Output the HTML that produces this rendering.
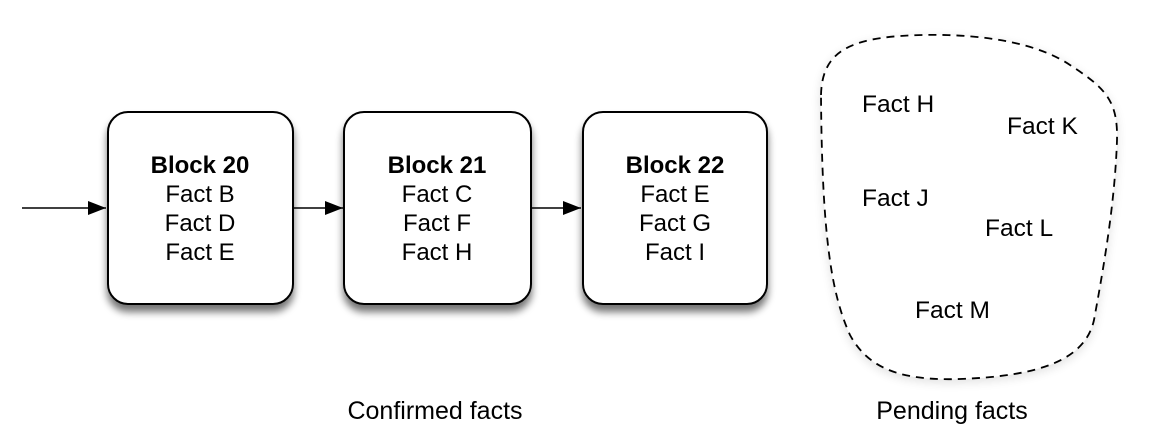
<!DOCTYPE html>
<html><head><meta charset="utf-8"><style>
html,body{margin:0;padding:0;background:#fff;}
svg{display:block;}
text{font-family:"Liberation Sans",Arial,sans-serif;fill:#000;}
</style></head><body>
<svg width="1160" height="445" viewBox="0 0 1160 445" xmlns="http://www.w3.org/2000/svg">
<defs>
<filter id="sh" x="-20%" y="-20%" width="140%" height="150%">
<feGaussianBlur in="SourceAlpha" stdDeviation="4"/>
<feOffset dx="0" dy="7" result="b"/>
<feComponentTransfer><feFuncA type="linear" slope="0.55"/></feComponentTransfer>
<feMerge><feMergeNode/><feMergeNode in="SourceGraphic"/></feMerge>
</filter>
<filter id="sh2" x="-20%" y="-20%" width="140%" height="140%">
<feGaussianBlur in="SourceAlpha" stdDeviation="5"/>
<feOffset dx="0" dy="3"/>
<feComponentTransfer><feFuncA type="linear" slope="0.12"/></feComponentTransfer>
<feMerge><feMergeNode/><feMergeNode in="SourceGraphic"/></feMerge>
</filter>
<marker id="ar" markerWidth="18" markerHeight="14" refX="18" refY="7" orient="auto" markerUnits="userSpaceOnUse">
<path d="M0,0 L18,7 L0,14 Z" fill="#000"/>
</marker>
</defs>

<line x1="22" y1="208" x2="106" y2="208" stroke="#000" stroke-width="1.5" marker-end="url(#ar)"/>
<line x1="293" y1="208" x2="343" y2="208" stroke="#000" stroke-width="1.5" marker-end="url(#ar)"/>
<line x1="531" y1="208" x2="581" y2="208" stroke="#000" stroke-width="1.5" marker-end="url(#ar)"/>

<g filter="url(#sh)">
<rect x="108" y="112" width="185" height="192" rx="20" fill="#fff" stroke="#000" stroke-width="2"/>
<rect x="344" y="112" width="187" height="192" rx="20" fill="#fff" stroke="#000" stroke-width="2"/>
<rect x="583" y="112" width="184" height="192" rx="20" fill="#fff" stroke="#000" stroke-width="2"/>
</g>

<g text-anchor="middle" font-size="24">
<text x="200" y="173" font-weight="bold">Block 20</text>
<text x="200" y="202">Fact B</text>
<text x="200" y="231">Fact D</text>
<text x="200" y="260">Fact E</text>
<text x="437" y="173" font-weight="bold">Block 21</text>
<text x="437" y="202">Fact C</text>
<text x="437" y="231">Fact F</text>
<text x="437" y="260">Fact H</text>
<text x="675" y="173" font-weight="bold">Block 22</text>
<text x="675" y="202">Fact E</text>
<text x="675" y="231">Fact G</text>
<text x="675" y="260">Fact I</text>
</g>

<path filter="url(#sh2)" d="M821,95 C822,55 845,40 900,36 C960,32 1030,38 1070,65 C1105,88 1118,100 1117,140 C1115,200 1105,260 1094,320 C1085,360 1040,376 960,379 C900,381 868,368 850,335 C832,295 822,240 821,95 Z" fill="#fff" stroke="#000" stroke-width="1.8" stroke-dasharray="8,6"/>

<g font-size="24.5">
<text x="862" y="112">Fact H</text>
<text x="1007" y="134">Fact K</text>
<text x="862" y="206">Fact J</text>
<text x="985" y="236">Fact L</text>
<text x="915" y="318">Fact M</text>
</g>

<g text-anchor="middle" font-size="25">
<text x="435" y="419">Confirmed facts</text>
<text x="952" y="419">Pending facts</text>
</g>
</svg>
</body></html>
